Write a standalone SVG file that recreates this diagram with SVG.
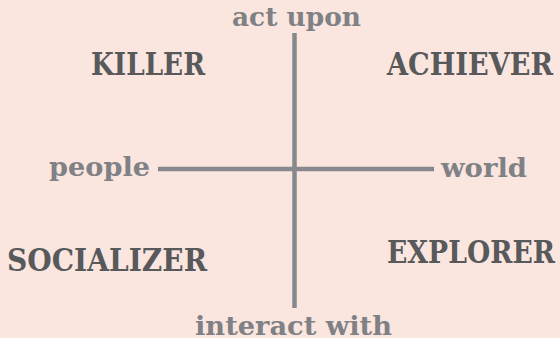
<svg xmlns="http://www.w3.org/2000/svg" width="560" height="338" viewBox="0 0 560 338">
<style>
.axis{font-family:"DejaVu Serif","Liberation Serif",serif;font-weight:bold;font-size:26px;fill:#808185}
.type{font-family:"DejaVu Serif","Liberation Serif",serif;font-weight:bold;font-size:31px;fill:#58595b}
.ln{stroke:#87888c;stroke-width:4.5;fill:none}
</style>
<rect width="560" height="338" fill="#fae6df"/>
<g id="connectors">
<line class="ln" x1="294.5" y1="33" x2="294.5" y2="308"/>
<line class="ln" x1="158" y1="169" x2="434" y2="169"/>
</g>
<g id="act-upon"><text class="axis" x="232" y="26" textLength="129" lengthAdjust="spacingAndGlyphs">act upon</text></g>
<g id="interact-with"><text class="axis" x="195" y="335" textLength="197" lengthAdjust="spacingAndGlyphs">interact with</text></g>
<g id="people"><text class="axis" x="49" y="176" textLength="101" lengthAdjust="spacingAndGlyphs">people</text></g>
<g id="world"><text class="axis" x="441" y="177" textLength="86" lengthAdjust="spacingAndGlyphs">world</text></g>
<g id="killer"><text class="type" x="91" y="74.5" textLength="114" lengthAdjust="spacingAndGlyphs">KILLER</text></g>
<g id="achiever"><text class="type" x="387" y="74.5" textLength="166" lengthAdjust="spacingAndGlyphs">ACHIEVER</text></g>
<g id="socializer"><text class="type" x="7" y="271" textLength="200" lengthAdjust="spacingAndGlyphs">SOCIALIZER</text></g>
<g id="explorer"><text class="type" x="387" y="262.5" textLength="168" lengthAdjust="spacingAndGlyphs">EXPLORER</text></g>
</svg>
